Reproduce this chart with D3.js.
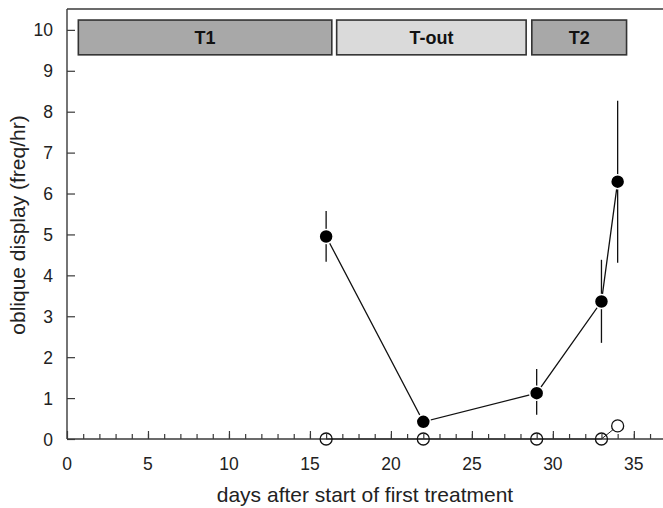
<!DOCTYPE html>
<html>
<head>
<meta charset="utf-8">
<script src="https://cdn.jsdelivr.net/npm/d3@7"></script>
<style>
	body { margin: 0; background: #fff; }
	text { font-family: "Liberation Sans", Arial, sans-serif; }
</style>
</head>
<body>
<svg id="chart"></svg>
<script>

// treatment periods (days)
var periods = ["T1", "T-out", "T2"];
var periodStart = [0.7, 16.65, 28.7];
var periodEnd = [16.35, 28.35, 34.55];
var periodShade = ["#a8a8a8", "#dadada", "#a8a8a8"];

// oblique display, filled points with error bars
var days = [16, 22, 29, 33, 34];
var rate = [4.95, 0.42, 1.12, 3.36, 6.29];
var rateHi = [5.57, 0.42, 1.71, 4.38, 8.27];
var rateLo = [4.33, 0.42, 0.59, 2.35, 4.31];

// open circles (control)
var ctrlDays = [16, 22, 29, 33, 34];
var ctrlRate = [0, 0, 0, 0, 0.32];

var yTicks = [0, 1, 2, 3, 4, 5, 6, 7, 8, 9, 10];
var xTicks = [0, 5, 10, 15, 20, 25, 30, 35];

var width = 663,
	height = 508;

var svg = d3.select("#chart")
	.attr("width", width)
	.attr("height", height);

var x = d3.scaleLinear().domain([0, 36.8]).range([67, 663]);
var y = d3.scaleLinear().domain([0, 10.51]).range([439, 9]);

var ink = "#3a3a3a";

// frame: top line
svg.append("line")
	.attr("x1", x(0)).attr("x2", width)
	.attr("y1", y(10.51)).attr("y2", y(10.51))
	.attr("stroke", ink).attr("stroke-width", 1.4);

// y axis, ticks pointing inwards
var yAxis = svg.append("g")
	.attr("transform", "translate(" + x(0) + ",0)")
	.call(d3.axisRight(y).tickValues(yTicks).tickSize(8).tickFormat(""));
yAxis.select(".domain").remove();
yAxis.selectAll(".tick line").attr("stroke", ink).attr("stroke-width", 1.2);
svg.append("line")
	.attr("x1", x(0)).attr("x2", x(0))
	.attr("y1", y(0)).attr("y2", y(10.51))
	.attr("stroke", ink).attr("stroke-width", 1.4);

svg.append("g").selectAll("text")
	.data(yTicks)
	.join("text")
	.attr("x", 53)
	.attr("y", d => y(d) + 6.5)
	.attr("text-anchor", "end")
	.attr("font-size", 17.5)
	.attr("fill", "#222")
	.text(d => d);

// x axis: minor ticks every day, major every 5
var xMinor = svg.append("g")
	.attr("transform", "translate(0," + y(0) + ")")
	.call(d3.axisTop(x).tickValues(d3.range(1, 37)).tickSize(5).tickFormat(""));
xMinor.select(".domain").remove();
xMinor.selectAll(".tick line").attr("stroke", ink).attr("stroke-width", 1.2);

var xMajor = svg.append("g")
	.attr("transform", "translate(0," + y(0) + ")")
	.call(d3.axisTop(x).tickValues(xTicks).tickSize(8).tickFormat(""));
xMajor.select(".domain").remove();
xMajor.selectAll(".tick line").attr("stroke", ink).attr("stroke-width", 1.2);

svg.append("line")
	.attr("x1", x(0)).attr("x2", width)
	.attr("y1", y(0)).attr("y2", y(0))
	.attr("stroke", ink).attr("stroke-width", 1.4);

svg.append("g").selectAll("text")
	.data(xTicks)
	.join("text")
	.attr("x", d => x(d))
	.attr("y", 470)
	.attr("text-anchor", "middle")
	.attr("font-size", 17.5)
	.attr("fill", "#222")
	.text(d => d);

// axis titles
svg.append("text")
	.attr("x", 365)
	.attr("y", 502)
	.attr("text-anchor", "middle")
	.attr("font-size", 21)
	.attr("fill", "#222")
	.text("days after start of first treatment");

svg.append("text")
	.attr("transform", "translate(25,225) rotate(-90)")
	.attr("text-anchor", "middle")
	.attr("font-size", 21)
	.attr("fill", "#222")
	.text("oblique display (freq/hr)");

// treatment period bars
var bars = svg.append("g").selectAll("g")
	.data(periods)
	.join("g");

bars.append("rect")
	.attr("x", (d, i) => x(periodStart[i]))
	.attr("width", (d, i) => x(periodEnd[i]) - x(periodStart[i]))
	.attr("y", y(10.24))
	.attr("height", y(9.39) - y(10.24))
	.attr("fill", (d, i) => periodShade[i])
	.attr("stroke", "#333")
	.attr("stroke-width", 1.6);

bars.append("text")
	.attr("x", (d, i) => (x(periodStart[i]) + x(periodEnd[i])) / 2)
	.attr("y", y(9.815) + 6.5)
	.attr("text-anchor", "middle")
	.attr("font-size", 18)
	.attr("font-weight", "bold")
	.attr("fill", "#111")
	.text(d => d);

// control series: open circles
svg.append("path")
	.datum(ctrlDays.map((d, i) => [d, ctrlRate[i]]))
	.attr("fill", "none")
	.attr("stroke", "#222")
	.attr("stroke-width", 1)
	.attr("d", d3.line().x(d => x(d[0])).y(d => y(d[1])));

svg.append("g").selectAll("circle")
	.data(ctrlDays)
	.join("circle")
	.attr("cx", d => x(d))
	.attr("cy", (d, i) => y(ctrlRate[i]))
	.attr("r", 6)
	.attr("fill", (d, i) => ctrlRate[i] > 0 ? "#fff" : "none")
	.attr("stroke", "#111")
	.attr("stroke-width", 1.3);

// error bars
svg.append("g").selectAll("line")
	.data(days)
	.join("line")
	.attr("x1", d => x(d)).attr("x2", d => x(d))
	.attr("y1", (d, i) => y(rateHi[i]))
	.attr("y2", (d, i) => y(rateLo[i]))
	.attr("stroke", "#111")
	.attr("stroke-width", 1.3);

// connecting line
svg.append("path")
	.datum(days.map((d, i) => [d, rate[i]]))
	.attr("fill", "none")
	.attr("stroke", "#111")
	.attr("stroke-width", 1.3)
	.attr("d", d3.line().x(d => x(d[0])).y(d => y(d[1])));

svg.append("g").selectAll("circle")
	.data(days)
	.join("circle")
	.attr("cx", d => x(d))
	.attr("cy", (d, i) => y(rate[i]))
	.attr("r", 7)
	.attr("fill", "#000")
	.attr("stroke", "#fff")
	.attr("stroke-width", 1.5);

</script>
</body>
</html>
